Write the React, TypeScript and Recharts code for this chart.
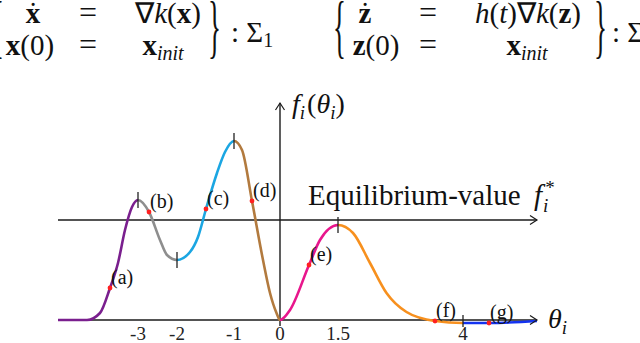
import React from "react";
import {
  ComposedChart,
  Line,
  Scatter,
  XAxis,
  YAxis,
  ReferenceLine,
  ReferenceDot,
} from "recharts";

const SERIF = "'Liberation Serif', 'Times New Roman', serif";

// sketched curve: horizontal position u and height f(u)
const curveU = [
  -4.44, -3.86, -3.6, -3.4, -3.24, -3.1, -2.96, -2.84, -2.62, -2.4, -2.26, -2.06,
  -1.8, -1.64, -1.48, -1.26, -1.1, -0.92, -0.76, -0.56, -0.34, -0.2, -0.07, 0,
  0.2, 0.58, 0.8, 1.16, 1.46, 1.8, 2.13, 2.53, 3.1, 3.66, 4.18, 5.14,
];
const curveF = [
  0, 0, 0.07, 0.32, 0.57, 0.9, 1.13, 1.2, 1.08, 0.8, 0.65, 0.6,
  0.68, 0.83, 1.11, 1.47, 1.68, 1.79, 1.7, 1.19, 0.6, 0.27, 0.07, 0,
  0.1, 0.55, 0.8, 0.95, 0.87, 0.57, 0.27, 0.08, -0.01, -0.03, -0.03, -0.01,
];

// extrema (colour changes) and their tick labels
const extremaU = [-2.84, -2.06, -0.92, 0, 1.16, 3.66];
const extremaF = [1.2, 0.6, 1.79, 0, 0.95, -0.03];
const extremaLabels = ["-3", "-2", "-1", "0", "1.5", "4"];
const segmentColors = [
  "#7a1f8e", "#8e8e8e", "#1ba6e2", "#b27a3e", "#e8168c", "#f7901e", "#1433f0",
];

// red sample points (a)..(g)
const markerU = [-3.4, -2.62, -1.48, -0.56, 0.58, 3.1, 4.18];
const markerF = [0.32, 1.08, 1.11, 1.19, 0.55, -0.01, -0.03];
const markerLabels = ["(a)", "(b)", "(c)", "(d)", "(e)", "(f)", "(g)"];

const equilibrium = 1;
const U_MIN = -4.44;
const U_MAX = 5.14;
const F_MIN = -0.07;
const F_MAX = 2.2;
const Y_AXIS_TOP = 2.17;

const curve = curveU.map((u, i) => ({ u, v: curveF[i] }));
const bars = extremaU
  .map((u, i) => ({ u, v: extremaF[i] }))
  .filter((d) => d.u !== 0);
const markers = markerU.map((u, i) => ({ u, v: markerF[i], label: markerLabels[i] }));

const frac = (u: number) => (u - curveU[0]) / (curveU[curveU.length - 1] - curveU[0]);

const gradientStops = segmentColors.flatMap((c, i) => {
  const a = i === 0 ? 0 : frac(extremaU[i - 1]);
  const b = i === segmentColors.length - 1 ? 1 : frac(extremaU[i]);
  return [
    <stop key={`a${i}`} offset={a} stopColor={c} />,
    <stop key={`b${i}`} offset={b} stopColor={c} />,
  ];
});

const MarkerDot = (p: any) => (
  <g>
    <circle cx={p.cx} cy={p.cy} r={2.4} fill="#ff2020" />
    <text x={p.cx + 1} y={p.cy - 4} fontSize={20} fill="#111" fontFamily={SERIF}>
      {p.payload?.label}
    </text>
  </g>
);

const ExtremumBar = (p: any) => (
  <line x1={p.cx} x2={p.cx} y1={p.cy - 8} y2={p.cy + 8} stroke="#222" strokeWidth={1.3} />
);

const ArrowRight = (p: any) => (
  <path
    d={`M${p.cx - 7},${p.cy - 4.5}L${p.cx},${p.cy}L${p.cx - 7},${p.cy + 4.5}`}
    fill="none"
    stroke="#1a1a1a"
    strokeWidth={1.2}
  />
);

const ArrowUp = (p: any) => (
  <path
    d={`M${p.cx - 4.5},${p.cy + 7}L${p.cx},${p.cy}L${p.cx + 4.5},${p.cy + 7}`}
    fill="none"
    stroke="#1a1a1a"
    strokeWidth={1.2}
  />
);

const FLabel = (p: any) => (
  <text x={p.cx + 12} y={p.cy + 10} fontSize={28} fill="#111" fontFamily={SERIF}>
    <tspan fontStyle="italic">f</tspan>
    <tspan fontStyle="italic" fontSize={19} dy={6}>i</tspan>
    <tspan dy={-6} dx={2}>(</tspan>
    <tspan fontStyle="italic">θ</tspan>
    <tspan fontStyle="italic" fontSize={19} dy={6}>i</tspan>
    <tspan dy={-6}>)</tspan>
  </text>
);

const ThetaLabel = (p: any) => (
  <text x={p.cx + 11} y={p.cy + 8} fontSize={28} fill="#111" fontFamily={SERIF}>
    <tspan fontStyle="italic">θ</tspan>
    <tspan fontStyle="italic" fontSize={19} dy={6}>i</tspan>
  </text>
);

const EquilibriumLabel = (p: any) => (
  <text x={p.cx + 28} y={p.cy - 15} fontSize={29} fill="#111" fontFamily={SERIF}>
    <tspan>Equilibrium-value </tspan>
    <tspan fontStyle="italic" dx={6}>f</tspan>
    <tspan fontStyle="italic" fontSize={19} dx={1} dy={7}>i</tspan>
    <tspan fontSize={19} dx={-3} dy={-18}>*</tspan>
  </text>
);

function Equations() {
  const brace = (ch: string, x: number) => (
    <text transform={`translate(${x},50) scale(1,2.6)`} fontSize={27}>
      {ch}
    </text>
  );
  return (
    <svg
      width={640}
      height={70}
      style={{ position: "absolute", left: 0, top: 0 }}
      fontFamily={SERIF}
      fill="#111"
    >
      <g fontSize={29}>
        {brace("{", -9)}
        <text x={33} y={23} textAnchor="middle" fontWeight="bold">x</text>
        <text x={33} y={23} textAnchor="middle">˙</text>
        <text x={88} y={23} textAnchor="middle" fontSize={32}>=</text>
        <text x={168} y={23} textAnchor="middle">
          ∇<tspan fontStyle="italic">k</tspan>(<tspan fontWeight="bold">x</tspan>)
        </text>
        <text x={30} y={55} textAnchor="middle">
          <tspan fontWeight="bold">x</tspan>(0)
        </text>
        <text x={88} y={55} textAnchor="middle" fontSize={32}>=</text>
        <text x={163} y={55} textAnchor="middle">
          <tspan fontWeight="bold">x</tspan>
          <tspan fontStyle="italic" fontSize={20} dy={5}>init</tspan>
        </text>
        {brace("}", 208)}
        <text x={231} y={42}>
          :  Σ<tspan fontSize={20} dy={5}>1</tspan>
        </text>

        {brace("{", 333)}
        <text x={365} y={23} textAnchor="middle" fontWeight="bold">z</text>
        <text x={365} y={23} textAnchor="middle">˙</text>
        <text x={428} y={23} textAnchor="middle" fontSize={32}>=</text>
        <text x={528} y={23} textAnchor="middle">
          <tspan fontStyle="italic">h</tspan>(<tspan fontStyle="italic">t</tspan>)∇
          <tspan fontStyle="italic">k</tspan>(<tspan fontWeight="bold">z</tspan>)
        </text>
        <text x={376} y={55} textAnchor="middle">
          <tspan fontWeight="bold">z</tspan>(0)
        </text>
        <text x={428} y={55} textAnchor="middle" fontSize={32}>=</text>
        <text x={527} y={55} textAnchor="middle">
          <tspan fontWeight="bold">x</tspan>
          <tspan fontStyle="italic" fontSize={20} dy={5}>init</tspan>
        </text>
        {brace("}", 594)}
        <text x={612} y={42}>:  Σ</text>
      </g>
    </svg>
  );
}

export default function App() {
  return (
    <div style={{ position: "absolute", left: 0, top: 0, width: 640, height: 343, background: "#fff" }}>
      <ComposedChart
        width={640}
        height={343}
        margin={{ top: 100, right: 103, bottom: 0, left: 58 }}
      >
        <defs>
          <linearGradient id="segGrad" x1="0" y1="0" x2="1" y2="0">
            {gradientStops}
          </linearGradient>
        </defs>
        <XAxis
          type="number"
          dataKey="u"
          domain={[U_MIN, U_MAX]}
          allowDataOverflow
          ticks={extremaU}
          interval={0}
          tickFormatter={(v: number) => extremaLabels[extremaU.indexOf(v)] ?? ""}
          axisLine={false}
          tickLine={false}
          tickSize={0}
          tickMargin={0}
          height={16}
          tick={{ fontSize: 19, fill: "#222", fontFamily: SERIF }}
        />
        <YAxis type="number" dataKey="v" domain={[F_MIN, F_MAX]} allowDataOverflow hide />

        <ReferenceLine y={0} stroke="#1a1a1a" strokeWidth={1.4} />
        <ReferenceLine y={equilibrium} stroke="#1a1a1a" strokeWidth={1.4} />
        <ReferenceLine
          segment={[
            { x: 0, y: -0.06 },
            { x: 0, y: Y_AXIS_TOP },
          ]}
          stroke="#1a1a1a"
          strokeWidth={1.4}
        />
        <ReferenceDot x={U_MAX} y={0} r={3} shape={ArrowRight} />
        <ReferenceDot x={U_MAX} y={equilibrium} r={3} shape={ArrowRight} />
        <ReferenceDot x={0} y={Y_AXIS_TOP} r={3} shape={ArrowUp} />
        <ReferenceDot x={0} y={Y_AXIS_TOP} r={3} shape={FLabel} />
        <ReferenceDot x={U_MAX} y={0} r={3} shape={ThetaLabel} />
        <ReferenceDot x={0} y={equilibrium} r={3} shape={EquilibriumLabel} />

        <Line
          data={curve}
          dataKey="v"
          type="monotone"
          stroke="url(#segGrad)"
          strokeWidth={2.6}
          dot={false}
          activeDot={false}
          isAnimationActive={false}
        />
        <Scatter data={bars} shape={ExtremumBar} isAnimationActive={false} />
        <Scatter data={markers} shape={MarkerDot} isAnimationActive={false} />
      </ComposedChart>
      <Equations />
    </div>
  );
}
